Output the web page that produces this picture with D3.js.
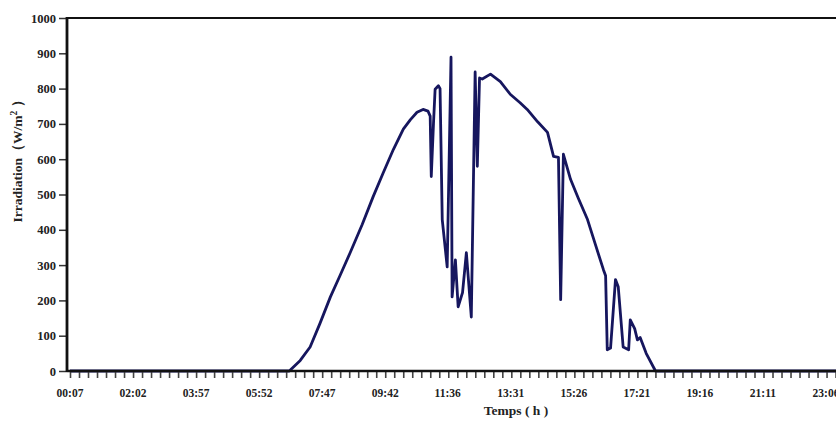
<!DOCTYPE html>
<html>
<head>
<meta charset="utf-8">
<script src="https://cdn.jsdelivr.net/npm/d3@7"></script>
<style>
  html, body { margin: 0; padding: 0; background: #fff; }
  svg { display: block; }
  text { font-family: "Liberation Serif", "Times New Roman", serif; font-weight: bold; fill: #222; }
</style>
</head>
<body>
<svg id="chart" width="836" height="423"></svg>
<script>
// ---- data ----
const times = ["00:07","06:47","07:07","07:25","07:43","08:02","08:20","08:38","09:00","09:20","09:38","09:57","10:15","10:28","10:40","10:51","11:00","11:04","11:06","11:10","11:13","11:19","11:22","11:26","11:35","11:42","11:44","11:50","11:55","12:03","12:10","12:19","12:26","12:30","12:34","12:39","12:54","13:12","13:30","13:48","14:01","14:20","14:38","14:49","14:58","15:02","15:07","15:20","15:34","15:51","16:05","16:20","16:24","16:27","16:33","16:42","16:47","16:56","17:06","17:09","17:17","17:22","17:27","17:38","17:55","23:59"];
const irradiation = [0,0,30,68,135,210,272,335,415,494,560,628,685,712,733,741,736,722,551,700,798,808,800,429,295,889,210,315,182,222,335,153,847,580,830,827,841,820,784,760,741,706,676,608,605,202,614,543,490,429,360,287,270,60,65,259,239,68,60,145,120,88,95,50,0,0];
const yTicks = [0,100,200,300,400,500,600,700,800,900,1000];
const xTickLabels = ["00:07","02:02","03:57","05:52","07:47","09:42","11:36","13:31","15:26","17:21","19:16","21:11","23:06"];
const minorPerLabel = 7;

// ---- layout ----
const W = 836, H = 423;
const axisX = 67, topY = 18, bottomY = 371;
const toMin = s => { const [h, m] = s.split(":").map(Number); return h * 60 + m; };

const svg = d3.select("#chart");
const x = d3.scaleLinear().domain([toMin("00:07"), toMin("23:06")]).range([70, 826]);
const y = d3.scaleLinear().domain([0, 1000]).range([bottomY, topY]);

// data line
const pts = times.map((t, i) => [toMin(t), irradiation[i]]);
svg.append("clipPath").attr("id", "clip").append("rect")
  .attr("x", axisX).attr("y", 0).attr("width", W - axisX).attr("height", bottomY + 2);
svg.append("path")
  .datum(pts)
  .attr("clip-path", "url(#clip)")
  .attr("fill", "none")
  .attr("stroke", "#16165e")
  .attr("stroke-width", 2.8)
  .attr("stroke-linejoin", "round")
  .attr("d", d3.line().x(d => x(d[0])).y(d => y(d[1])));

// top frame line
svg.append("line").attr("x1", axisX).attr("x2", W).attr("y1", topY).attr("y2", topY)
  .attr("stroke", "#111").attr("stroke-width", 2);

// x axis: minor ticks and labels
const labelMins = xTickLabels.map(toMin);
const step = (labelMins[1] - labelMins[0]) / minorPerLabel;
const minorVals = d3.range(labelMins[0], toMin("23:59") + step, step);
const xAxisG = svg.append("g").attr("transform", `translate(0,${bottomY})`);
xAxisG.call(d3.axisBottom(x).tickValues(minorVals).tickSize(7).tickFormat(""))
  .call(g => g.select(".domain").remove())
  .call(g => g.selectAll(".tick line").attr("stroke", "#444").attr("stroke-width", 1.6));
xAxisG.append("line").attr("x1", axisX).attr("x2", W).attr("y1", 0).attr("y2", 0)
  .attr("stroke", "#111").attr("stroke-width", 2.4);
svg.append("g").selectAll("text").data(xTickLabels).join("text")
  .attr("x", d => x(toMin(d))).attr("y", 397)
  .attr("text-anchor", "middle").attr("font-size", 11.5)
  .text(d => d);

// y axis
const yAxisG = svg.append("g").attr("transform", `translate(${axisX},0)`);
yAxisG.call(d3.axisLeft(y).tickValues(yTicks).tickSize(8).tickPadding(3).tickFormat(d3.format("d")))
  .call(g => g.select(".domain").remove())
  .call(g => g.selectAll(".tick line").attr("stroke", "#333").attr("stroke-width", 1.5))
  .call(g => g.selectAll(".tick text").attr("font-size", 12.5).attr("fill", "#222")
     .attr("font-family", "'Liberation Serif', serif").attr("font-weight", "bold"));
yAxisG.append("line").attr("x1", 0).attr("x2", 0).attr("y1", topY - 1).attr("y2", bottomY + 1)
  .attr("stroke", "#111").attr("stroke-width", 2.8);

// axis titles
svg.append("text").attr("x", 516).attr("y", 415).attr("text-anchor", "middle")
  .attr("font-size", 13.5).text("Temps ( h )");
svg.append("text").attr("transform", `translate(22,${158}) rotate(-90)`)
  .attr("text-anchor", "middle").attr("font-size", 13.5)
  .html('Irradiation（W/m<tspan dy="-5" font-size="9.5">2</tspan><tspan dy="5"> ）</tspan>');
</script>
</body>
</html>
